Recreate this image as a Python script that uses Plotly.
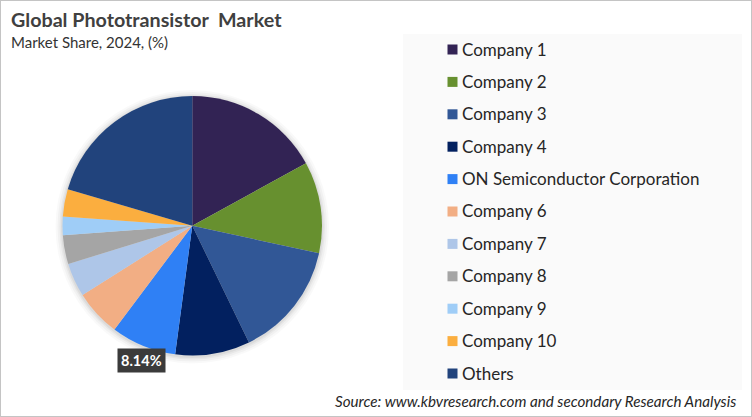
import plotly.graph_objects as go

WIDTH = 752
HEIGHT = 417

companies = ["Company 1", "Company 2", "Company 3", "Company 4",
             "ON Semiconductor Corporation", "Company 6", "Company 7",
             "Company 8", "Company 9", "Company 10", "Others"]
shares = [17.0, 11.4, 14.4, 9.3, 8.14, 5.8, 4.2, 3.6, 2.3, 3.4, 20.46]
colors = ["#322354", "#67902f", "#315796", "#02205f", "#2f80f5", "#f2ae84",
          "#aec6e8", "#a5a5a5", "#9fcdf7", "#fbae3f", "#21437c"]
labelled = "ON Semiconductor Corporation"

FONT = "Lato, Carlito, Calibri, sans-serif"


def px(x):
    return x / WIDTH


def py(y):
    return 1 - y / HEIGHT


fig = go.Figure()

fig.add_trace(go.Pie(
    labels=companies,
    values=shares,
    sort=False,
    direction="clockwise",
    rotation=0,
    marker=dict(colors=colors, line=dict(width=0)),
    textinfo="none",
    hoverinfo="label+percent",
    showlegend=False,
    domain=dict(x=[px(62.5), px(322)], y=[py(355.5), py(96)]),
))

shapes = [
    # outer frame of the picture
    dict(type="rect", xref="paper", yref="paper", x0=0, x1=1, y0=0, y1=1,
         line=dict(color="#c4c4c4", width=2), fillcolor="white", layer="below"),
    # legend panel
    dict(type="rect", xref="paper", yref="paper",
         x0=px(403), x1=px(742), y0=py(390), y1=py(34),
         line=dict(width=0), fillcolor="#fafafa", layer="below"),
]

# soft shadow around the pie
for grow, alpha in [(7, 0.025), (5, 0.03), (3, 0.04), (1.5, 0.05)]:
    shapes.append(dict(type="circle", xref="paper", yref="paper", layer="below",
                       x0=px(62.5 - grow), x1=px(322 + grow),
                       y0=py(355.5 + grow + 1), y1=py(96 - grow + 1),
                       line=dict(width=0), fillcolor="rgba(0,0,0,%s)" % alpha))

annotations = [
    dict(x=px(9), y=py(19), text="<b>Global Phototransistor  Market</b>",
         font=dict(size=19.7, color="#404040")),
    dict(x=px(9), y=py(42), text="Market Share, 2024, (%)",
         font=dict(size=15, color="#333333")),
    dict(x=px(333), y=py(400.5), text="<i>Source: www.kbvresearch.com and secondary Research Analysis</i>",
         font=dict(size=15.2, color="#262626")),
]

# legend rows drawn by hand, the native one cannot space its rows this wide
for i, (name, color) in enumerate(zip(companies, colors)):
    row_y = 49.5 + i * 32.4
    shapes.append(dict(type="rect", xref="paper", yref="paper",
                       x0=px(447.5), x1=px(457.5), y0=py(row_y + 5), y1=py(row_y - 5),
                       line=dict(width=0), fillcolor=color))
    annotations.append(dict(x=px(460), y=py(row_y - 0.5), text=name,
                            font=dict(size=17, color="#262626")))

for a in annotations:
    a.update(xref="paper", yref="paper", xanchor="left", yanchor="middle",
             showarrow=False, font=dict(family=FONT, **a["font"]))

# data label for the one slice that carries a value
annotations.append(dict(
    x=px(141.5), y=py(360), xref="paper", yref="paper", showarrow=False,
    xanchor="center", yanchor="middle",
    text="<b>%.2f%%</b>" % shares[companies.index(labelled)],
    font=dict(family=FONT, size=14.5, color="white"),
    bgcolor="#3b3b3b", borderpad=3,
))

fig.update_layout(
    width=WIDTH,
    height=HEIGHT,
    margin=dict(l=0, r=0, t=0, b=0),
    paper_bgcolor="white",
    shapes=shapes,
    annotations=annotations,
)

# the page's default body margin would push the figure off the window
fig.write_html("out.html", config={"displayModeBar": False},
               post_script="document.body.style.margin='0';document.documentElement.style.overflow='hidden';")
